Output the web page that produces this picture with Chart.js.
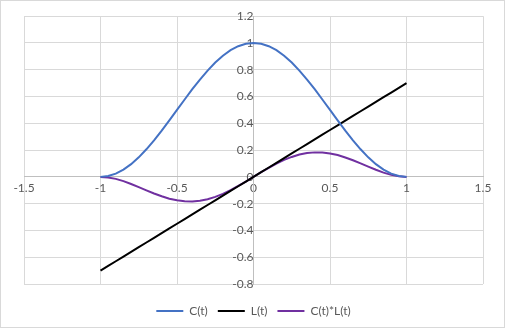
<!DOCTYPE html>
<html>
<head>
<meta charset="utf-8">
<script src="https://cdn.jsdelivr.net/npm/chart.js@4/dist/chart.umd.min.js"></script>
<style>
    html, body { margin: 0; padding: 0; background: #fff; }
    #frame { position: absolute; left: 0; top: 0; width: 505px; height: 328px; box-sizing: border-box; border: 1px solid #d9d9d9; overflow: hidden; }
    #plot { position: absolute; left: 0; top: 0; }
</style>
</head>
<body>
<div id="frame"><canvas id="plot" width="503" height="326"></canvas></div>
<script>
// sample points t = -1 ... 1, every 0.05
const tValues = [-1, -0.95, -0.9, -0.85, -0.8, -0.75, -0.7, -0.65, -0.6, -0.55, -0.5, -0.45, -0.4, -0.35, -0.3, -0.25, -0.2, -0.15, -0.1, -0.05,
    0, 0.05, 0.1, 0.15, 0.2, 0.25, 0.3, 0.35, 0.4, 0.45, 0.5, 0.55, 0.6, 0.65, 0.7, 0.75, 0.8, 0.85, 0.9, 0.95, 1];
const cValues = [0, 0.006, 0.024, 0.054, 0.095, 0.146, 0.206, 0.273, 0.345, 0.422, 0.5, 0.578, 0.655, 0.727, 0.794, 0.854, 0.905, 0.946, 0.976, 0.994,
    1, 0.994, 0.976, 0.946, 0.905, 0.854, 0.794, 0.727, 0.655, 0.578, 0.5, 0.422, 0.345, 0.273, 0.206, 0.146, 0.095, 0.054, 0.024, 0.006, 0];
const lValues = [-0.7, -0.665, -0.63, -0.595, -0.56, -0.525, -0.49, -0.455, -0.42, -0.385, -0.35, -0.315, -0.28, -0.245, -0.21, -0.175, -0.14, -0.105, -0.07, -0.035,
    0, 0.035, 0.07, 0.105, 0.14, 0.175, 0.21, 0.245, 0.28, 0.315, 0.35, 0.385, 0.42, 0.455, 0.49, 0.525, 0.56, 0.595, 0.63, 0.665, 0.7];
const clValues = [0, -0.004, -0.015, -0.032, -0.053, -0.077, -0.101, -0.124, -0.145, -0.163, -0.175, -0.182, -0.183, -0.178, -0.167, -0.149, -0.127, -0.099, -0.068, -0.035,
    0, 0.035, 0.068, 0.099, 0.127, 0.149, 0.167, 0.178, 0.183, 0.182, 0.175, 0.163, 0.145, 0.124, 0.101, 0.077, 0.053, 0.032, 0.015, 0.004, 0];

const seriesNames = ['C(t)', 'L(t)', 'C(t)*L(t)'];
const seriesColors = ['#4472c4', '#000000', '#7030a0'];

const pairUp = ys => tValues.map((t, i) => ({ x: t, y: ys[i] }));
const fmt = v => String(Math.round(v * 10) / 10);

const textColor = '#595959';
const gridColor = '#d9d9d9';

new Chart(document.getElementById('plot'), {
    type: 'scatter',
    data: {
        datasets: [cValues, lValues, clValues].map((ys, i) => ({
            label: seriesNames[i],
            data: pairUp(ys),
            showLine: true,
            borderColor: seriesColors[i],
            backgroundColor: seriesColors[i],
            borderWidth: 2,
            pointRadius: 0,
            pointHoverRadius: 0,
            pointStyle: 'line',
            tension: 0
        }))
    },
    options: {
        responsive: false,
        animation: false,
        layout: { padding: { left: 23, right: 21, top: 14, bottom: 0 } },
        scales: {
            x: {
                type: 'linear',
                position: { y: 0 },
                min: -1.5, max: 1.5,
                ticks: { stepSize: 0.5, color: textColor, padding: 4, font: { family: 'Lato', size: 12 }, callback: fmt },
                grid: { color: gridColor, drawTicks: false },
                border: { color: '#bfbfbf' }
            },
            y: {
                type: 'linear',
                position: { x: 0 },
                min: -0.8, max: 1.2,
                ticks: { stepSize: 0.2, color: textColor, padding: 8, font: { family: 'Lato', size: 12 }, callback: fmt },
                grid: { color: gridColor, drawTicks: false },
                border: { color: '#bfbfbf' }
            }
        },
        plugins: {
            tooltip: { enabled: false },
            legend: {
                position: 'bottom',
                // empty title only adds a gap above the legend row
                title: { display: true, text: '', padding: 0, font: { size: 11, lineHeight: 1 } },
                labels: {
                    usePointStyle: true,
                    pointStyleWidth: 27,
                    padding: 10,
                    color: textColor,
                    font: { family: 'Lato', size: 12 }
                }
            }
        }
    }
});
</script>
</body>
</html>
